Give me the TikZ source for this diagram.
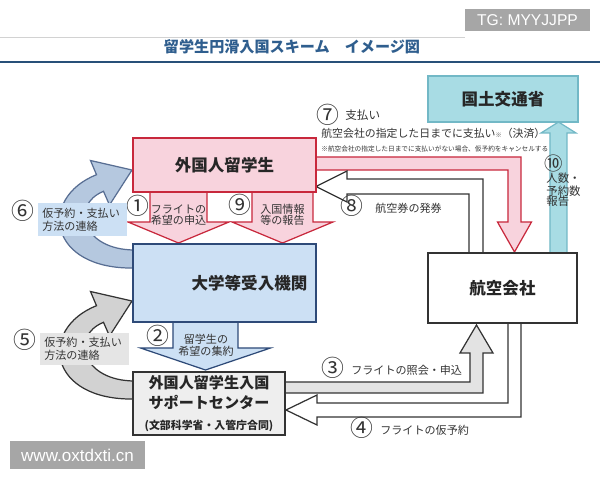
\documentclass[tikz,border=0pt]{standalone}
\usepackage{fontspec}
\setmainfont{Noto Sans CJK JP}
\newfontfamily\latinfont{Liberation Sans}
\usepackage{tikz}
\usetikzlibrary{calc}
\usepackage{xcolor}
\definecolor{pinkfill}{HTML}{F8D3DD}
\definecolor{pinkline}{HTML}{C8283C}
\definecolor{bluefill}{HTML}{CCE0F4}
\definecolor{blueline}{HTML}{2E4A78}
\definecolor{tealfill}{HTML}{A8DCE4}
\definecolor{tealline}{HTML}{72B8C6}
\definecolor{grayfill}{HTML}{EEEEEE}
\definecolor{darkline}{HTML}{333333}
\definecolor{titleblue}{HTML}{2F5E8E}
\definecolor{wmgray}{HTML}{A6A6A6}

\tikzset{
  box/.style={draw=darkline, line width=0.85pt, inner sep=0pt,
    font=\fontsize{9.4}{11}\selectfont\bfseries, text=black!85},
  fatarrow/.style={line width=0.7pt, line join=miter},
  num/.style={font=\fontsize{13}{13}\selectfont, text=darkline, inner sep=0pt},
  lbl/.style={font=\fontsize{6.3}{6.6}\selectfont, align=center, inner sep=0pt, text=darkline},
  tagbox/.style={anchor=west, inner xsep=0.08cm, inner ysep=0pt, text width=1.62cm,
    minimum height=0.66cm, align=left, font=\fontsize{6.3}{7.4}\selectfont, text=darkline},
  stamp/.style={fill=wmgray, text=white, inner sep=0pt}
}

\begin{document}
\begin{tikzpicture}[x=0.02cm, y=-0.02cm]
    \useasboundingbox (0,0) rectangle (600,480);
    \fill[white] (0,0) rectangle (600,480);

    % Kopfzeile
    \draw[gray!35, line width=0.5pt] (0,37) -- (465,37);
    \draw[titleblue!85!black, line width=0.8pt] (0,62) -- (600,62);
    \node[font=\fontsize{8.6}{10}\selectfont\bfseries, text=titleblue] (title) at (292,47)
        {留学生円滑入国スキーム\hspace{1em}イメージ図};

    % gebogene Pfeile links (6) und (5)
    \draw[fatarrow, fill=bluefill!80!blueline!90, draw=blueline!80]
        (135,250) .. controls (82,250) and (70,205) .. (103.5,191.3) -- (109.5,205)
        -- (132,170) -- (90.5,160.5) -- (96.5,174.7)
        .. controls (38,198) and (48,270) .. (135,268) -- cycle;
    \begin{scope}[shift={(0,131)}]
    \draw[fatarrow, fill=gray!35, draw=darkline]
        (135,250) .. controls (82,250) and (70,205) .. (103.5,191.3) -- (109.5,205)
        -- (132,170) -- (90.5,160.5) -- (96.5,174.7)
        .. controls (38,198) and (48,270) .. (135,268) -- cycle;
    \end{scope}

    % Pfeile (1), (9), (2)
    \draw[fatarrow, fill=pinkfill, draw=pinkline]
        (150,188) -- (150,222) -- (128,222) -- (178.5,243) -- (229,222) -- (207,222) -- (207,188);
    \draw[fatarrow, fill=pinkfill, draw=pinkline]
        (252,188) -- (252,222) -- (232,222) -- (282.5,243) -- (333,222) -- (313,222) -- (313,188);
    \draw[fatarrow, fill=bluefill, draw=blueline]
        (173,318) -- (173,348) -- (140.5,348) -- (205.5,370) -- (270.5,348) -- (238,348) -- (238,318);

    % Pfeil (7) zum Luftfahrtunternehmen
    \draw[fatarrow, fill=pinkfill, draw=pinkline]
        (310,157) -- (521,157) -- (521,222) -- (531.5,222) -- (514.5,252)
        -- (497.5,222) -- (508,222) -- (508,170) -- (310,170);
    % Pfeil (8)
    \draw[fatarrow, fill=white, draw=darkline]
        (483,257) -- (483,179) -- (347,179) -- (347,171) -- (316,186.5)
        -- (347,202) -- (347,194) -- (469,194) -- (469,257);
    % Pfeil (10)
    \draw[fatarrow, fill=tealfill, draw=tealline]
        (550,257) -- (550,133) -- (541,133) -- (558.5,122) -- (576,133) -- (567,133) -- (567,257);
    % Pfeil (3)
    \draw[fatarrow, fill=gray!22, draw=darkline]
        (281,382) -- (470,382) -- (470,353) -- (460,353) -- (476.5,325)
        -- (493,353) -- (483,353) -- (483,393) -- (281,393);
    % Pfeil (4)
    \draw[fatarrow, fill=white, draw=darkline]
        (508,319) -- (508,403) -- (317,403) -- (317,395) -- (286,410)
        -- (317,425) -- (317,417) -- (521,417) -- (521,319);

    % Kaesten
    \node[box, fill=tealfill, draw=tealline, minimum width=3cm, minimum height=0.92cm] (mlit) at (503,99) {国土交通省};
    \node[box, fill=pinkfill, draw=pinkline, minimum width=3.66cm, minimum height=1.08cm] (stu) at (224.5,165) {外国人留学生};
    \node[box, fill=bluefill, draw=blueline, minimum width=3.66cm, minimum height=1.56cm] (univ) at (224.5,283) {\hspace*{1cm}大学等受入機関};
    \node[box, fill=grayfill, minimum width=3.04cm, minimum height=1.26cm, align=center,
        font=\fontsize{8.6}{11.5}\selectfont\bfseries] (sup) at (209,403.5)
        {外国人留学生入国\\サポートセンター\\{\fontsize{6.2}{11.5}\selectfont (文部科学省・入管庁合同)}};
    \node[box, fill=white, minimum width=2.98cm, minimum height=1.4cm] (air) at (502.5,288) {航空会社};

    % Beschriftungen
    \node[num] (n1) at (138,206) {①};
    \node[lbl] (t1) at (178.5,215) {フライトの\\希望の申込};
    \node[num] (n9) at (240,205) {⑨};
    \node[lbl] (t9) at (282.5,215) {入国情報\\等の報告};
    \node[num] (n2) at (158,336) {②};
    \node[lbl] (t2) at (206,345) {留学生の\\希望の集約};

    \node[tagbox, fill=bluefill] (tag6) at (38,219.5) {仮予約・支払い\\方法の連絡};
    \node[num] (n6) at (23,211) {⑥};
    \node[tagbox, fill=gray!20] (tag5) at (40,349) {仮予約・支払い\\方法の連絡};
    \node[num] (n5) at (25,340) {⑤};

    \node[num] (n7) at (328,115) {⑦};
    \node[lbl, anchor=west, font=\fontsize{6.6}{7}\selectfont] (t7) at (345,115) {支払い};
    \node[lbl, anchor=west, font=\fontsize{6.2}{7}\selectfont] (t7b) at (321,133)
        {航空会社の指定した日までに支払い{\fontsize{3.5}{4}\selectfont ※}（決済）};
    \node[lbl, anchor=west, font=\fontsize{3.8}{4}\selectfont] (t7c) at (321,149)
        {※航空会社の指定した日までに支払いがない場合、仮予約をキャンセルする};

    \node[num] (n8) at (352,206) {⑧};
    \node[lbl, anchor=west] (t8) at (375,208) {航空券の発券};
    \node[num, font=\fontsize{10.5}{11}\selectfont] (n10) at (554,163) {⑩};
    \node[lbl, anchor=north west, align=left, font=\fontsize{6.5}{6}\selectfont] (t10) at (546,173) {人数・\\予約数\\報告};

    \node[num] (n3) at (333,368) {③};
    \node[lbl, anchor=west] (t3) at (351,370) {フライトの照会・申込};
    \node[num] (n4) at (362,428) {④};
    \node[lbl, anchor=west] (t4) at (380,430) {フライトの仮予約};

    % Wasserzeichen
    \node[stamp, minimum width=2.5cm, minimum height=0.44cm, font=\latinfont\fontsize{8.9}{10}\selectfont] (tg) at (527.5,20) {TG: MYYJJPP};
    \node[stamp, minimum width=2.7cm, minimum height=0.58cm, font=\latinfont\fontsize{9.7}{11}\selectfont] (web) at (77.5,455) {www.oxtdxti.cn};
\end{tikzpicture}
\end{document}
